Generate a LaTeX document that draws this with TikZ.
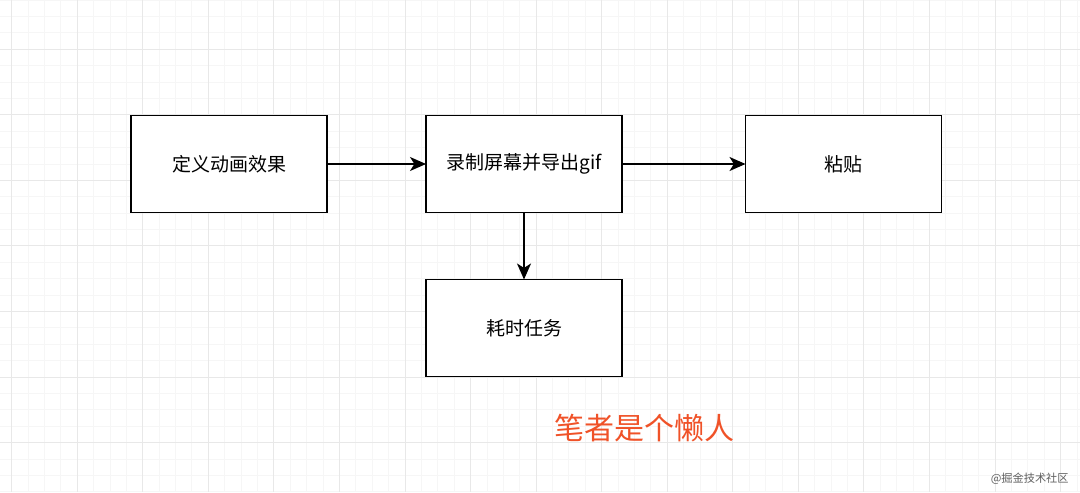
\documentclass[tikz,border=0pt]{standalone}
\usepackage{fontspec}
\setmainfont{Noto Sans CJK SC}
\usepackage{tikz}
\usetikzlibrary{arrows.meta,positioning}
\usepackage{xcolor}
\definecolor{gridminor}{RGB}{246,246,246}
\definecolor{gridmajor}{RGB}{232,232,232}
\definecolor{lazyred}{RGB}{240,82,40}
\definecolor{markgray}{RGB}{95,95,95}
\tikzstyle{box} = [draw=black, line width=0.9pt, fill=white, outer sep=0pt, minimum width=98pt, minimum height=48.5pt, font=\fontsize{9.5}{11}\selectfont]
\tikzstyle{arrow} = [line width=0.8pt, -{Stealth[length=8pt,width=7pt,inset=2.2pt]}, color=black]

\begin{document}
\begin{tikzpicture}[x=0.5pt, y=-0.5pt]
\useasboundingbox (0,0) rectangle (1080,492);
\fill[white] (0,0) rectangle (1080,492);

% Background grid
\foreach \i in {-1,...,65} \draw[gridminor, line width=0.5pt] ({11.7+\i*16.39},0) -- ({11.7+\i*16.39},492);
\foreach \j in {-3,...,27} \draw[gridminor, line width=0.5pt] (0,{49.3+\j*16.39}) -- (1080,{49.3+\j*16.39});
\foreach \i in {0,...,16} \draw[gridmajor, line width=0.5pt] ({11.7+\i*65.56},0) -- ({11.7+\i*65.56},492);
\foreach \j in {0,...,6} \draw[gridmajor, line width=0.5pt] (0,{49.3+\j*65.56}) -- (1080,{49.3+\j*65.56});

% Steps
\node[box] (define) at (229,164) {定义动画效果};
\node[box] (record) at (524,164) {录制屏幕并导出gif};
\node[box] (paste) at (843.5,164) {粘贴};
\node[box] (slow) at (524,328) {耗时任务};

% Connectors
\draw[arrow] (define) -- (record);
\draw[arrow] (record) -- (paste);
\draw[arrow] (record) -- (slow);

% Remarks
\node[text=lazyred, font=\fontsize{15}{18}\selectfont] (lazy) at (644,428) {笔者是个懒人};
\node[text=markgray, font=\fontsize{5.6}{7}\selectfont, anchor=east, inner sep=0pt] (mark) at (1069,479) {@掘金技术社区};
\end{tikzpicture}
\end{document}
